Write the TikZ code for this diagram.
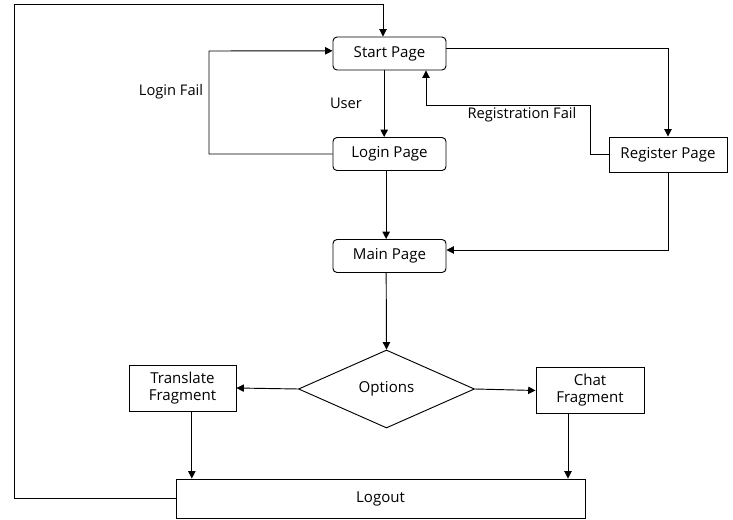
\documentclass[tikz,border=0pt]{standalone}
\usepackage{fontspec}
\setmainfont{Open Sans}
\usetikzlibrary{arrows.meta,shapes.geometric}

\begin{document}
\begin{tikzpicture}[x=0.75pt,y=-0.75pt,>={Triangle[length=5.5pt,width=5.5pt]},
  line width=0.7pt,
  every node/.style={font=\fontsize{11.3}{12.75}\selectfont},
  page/.style={draw,rounded corners=3pt,minimum width=84.75pt,minimum height=24.75pt,inner sep=0pt},
  box/.style={draw,minimum width=80.25pt,minimum height=34.5pt,inner sep=0pt,align=center},
  lbl/.style={font=\fontsize{11}{12}\selectfont}]
  \useasboundingbox (0,0) rectangle (733,520);

  \node[page]                                  (start)     at (389.5,53.5) {Start Page};
  \node[page]                                  (login)     at (389.5,154)  {Login Page};
  \node[page]                                  (main)      at (389.5,256)  {Main Page};
  \node[box, minimum width=88.5pt, minimum height=26.25pt] (register) at (668,154.5) {Register Page};
  \node[draw,diamond,aspect=2.26,inner sep=0pt,minimum width=132pt,minimum height=58.5pt]
                                               (options)   at (386.5,389)  {Options};
  \node[box]                                   (translate) at (182.5,388)  {Translate\\Fragment};
  \node[box, minimum width=81pt]               (chat)      at (590,390.5)  {Chat\\Fragment};
  \node[box, minimum width=306.75pt, minimum height=29.25pt] (logout) at (380.5,498.5) {Logout};

  \coordinate (top)     at (383,4);
  \coordinate (regfail) at (426,105);

  % back to the start page
  \draw[->] (logout.west) -| (14,4) -- (top) -- (top |- start.north);

  \draw[->] ([xshift=-4pt]start.south) -- ([xshift=-4pt]login.north);
  \node[lbl] (user) at (346,103) {User};

  \draw[->] (login.west) -| (209,51) -- ([yshift=2pt]start.west);
  \node[lbl] (loginfail) at (171,92) {Login Fail};

  \draw[->] ([yshift=3.4pt]start.east) -| (register.north);

  \draw[->] (register.west) -| (590,105) -- (regfail) -- (regfail |- start.south);
  \node[lbl] (regfaillbl) at (522,115) {Registration Fail};

  \draw[->,line width=1pt] ([xshift=-2.5pt]login.south) -- ([xshift=-2.5pt]main.north);
  \draw[->] (register.south) |- ([yshift=4.5pt]main.east);

  \draw[->] ([xshift=-2.5pt]main.south) -- (options.north);
  \draw[->] (options.west) -- (translate.east);
  \draw[->] (options.east) -- (chat.west);

  \draw[->] ([xshift=7pt]translate.south) -- ([xshift=7pt]translate.south |- logout.north);
  \draw[->] ([xshift=-16.5pt]chat.south) -- ([xshift=-16.5pt]chat.south |- logout.north);

\end{tikzpicture}
\end{document}
